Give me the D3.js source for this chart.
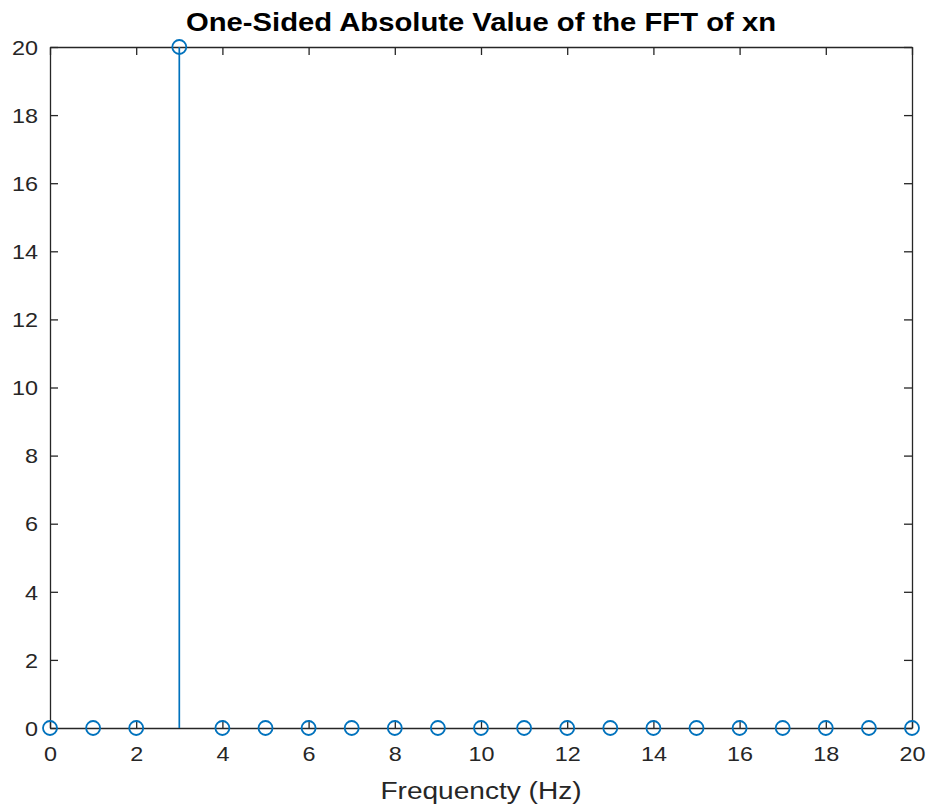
<!DOCTYPE html>
<html>
<head>
<meta charset="utf-8">
<script src="https://cdn.jsdelivr.net/npm/d3@7"></script>
<style>
  body { margin: 0; background: #fff; }
  text { font-family: "Liberation Sans", Arial, sans-serif; }
</style>
</head>
<body>
<script>
// one-sided FFT magnitude, 0..20 Hz
const freqs = [0, 1, 2, 3, 4, 5, 6, 7, 8, 9, 10, 11, 12, 13, 14, 15, 16, 17, 18, 19, 20];
const mags  = [0, 0, 0, 20, 0, 0, 0, 0, 0, 0, 0, 0, 0, 0, 0, 0, 0, 0, 0, 0, 0];
const xTicks = [0, 2, 4, 6, 8, 10, 12, 14, 16, 18, 20];
const yTicks = [0, 2, 4, 6, 8, 10, 12, 14, 16, 18, 20];

const W = 928, H = 807;
const m = { left: 50, right: 16, top: 47, bottom: 79 };
const axisColor = "#262626", lineColor = "#0072BD";
const sx = 1.17; // reference text is a bit stretched horizontally

const svg = d3.select("body").append("svg")
    .attr("width", W).attr("height", H);

const x = d3.scaleLinear().domain([0, 20]).range([m.left, W - m.right]);
const y = d3.scaleLinear().domain([0, 20]).range([H - m.bottom, m.top]);

// axes on all four sides, ticks pointing inward
const tick = 8;
svg.append("g").attr("transform", `translate(0,${y(0)})`)
    .call(d3.axisBottom(x).tickValues(xTicks).tickSizeInner(-tick).tickSizeOuter(0))
    .call(g => g.selectAll("text")
        .attr("font-size", 20).attr("fill", axisColor)
        .attr("y", 33).attr("dy", null)
        .attr("transform", `scale(${sx},1)`));
svg.append("g").attr("transform", `translate(0,${y(20)})`)
    .call(d3.axisTop(x).tickValues(xTicks).tickSizeInner(-tick).tickSizeOuter(0).tickFormat(""));
svg.append("g").attr("transform", `translate(${x(0)},0)`)
    .call(d3.axisLeft(y).tickValues(yTicks).tickSizeInner(-tick).tickSizeOuter(0))
    .call(g => g.selectAll("text")
        .attr("font-size", 20).attr("fill", axisColor)
        .attr("x", -12 / sx).attr("dy", "0.36em")
        .attr("transform", `scale(${sx},1)`));
svg.append("g").attr("transform", `translate(${x(20)},0)`)
    .call(d3.axisRight(y).tickValues(yTicks).tickSizeInner(-tick).tickSizeOuter(0).tickFormat(""));

svg.selectAll(".domain, .tick line").attr("stroke", axisColor).attr("stroke-width", 1.3);

// stems
const pts = freqs.map((f, i) => ({ f, v: mags[i] }));
svg.append("g").selectAll("line").data(pts).join("line")
    .attr("x1", d => x(d.f)).attr("x2", d => x(d.f))
    .attr("y1", y(0)).attr("y2", d => y(d.v))
    .attr("stroke", lineColor).attr("stroke-width", 1.7);

svg.append("g").selectAll("circle").data(pts).join("circle")
    .attr("cx", d => x(d.f)).attr("cy", d => y(d.v)).attr("r", 7)
    .attr("fill", "none").attr("stroke", lineColor).attr("stroke-width", 1.8);

const cx = (m.left + W - m.right) / 2;
svg.append("text")
    .attr("transform", `translate(${cx},31) scale(${sx},1)`)
    .attr("text-anchor", "middle").attr("font-size", 25).attr("font-weight", "bold")
    .attr("fill", "#000")
    .text("One-Sided Absolute Value of the FFT of xn");

svg.append("text")
    .attr("transform", `translate(${cx},799) scale(${sx},1)`)
    .attr("text-anchor", "middle").attr("font-size", 24)
    .attr("fill", axisColor)
    .text("Frequencty (Hz)");
</script>
</body>
</html>
